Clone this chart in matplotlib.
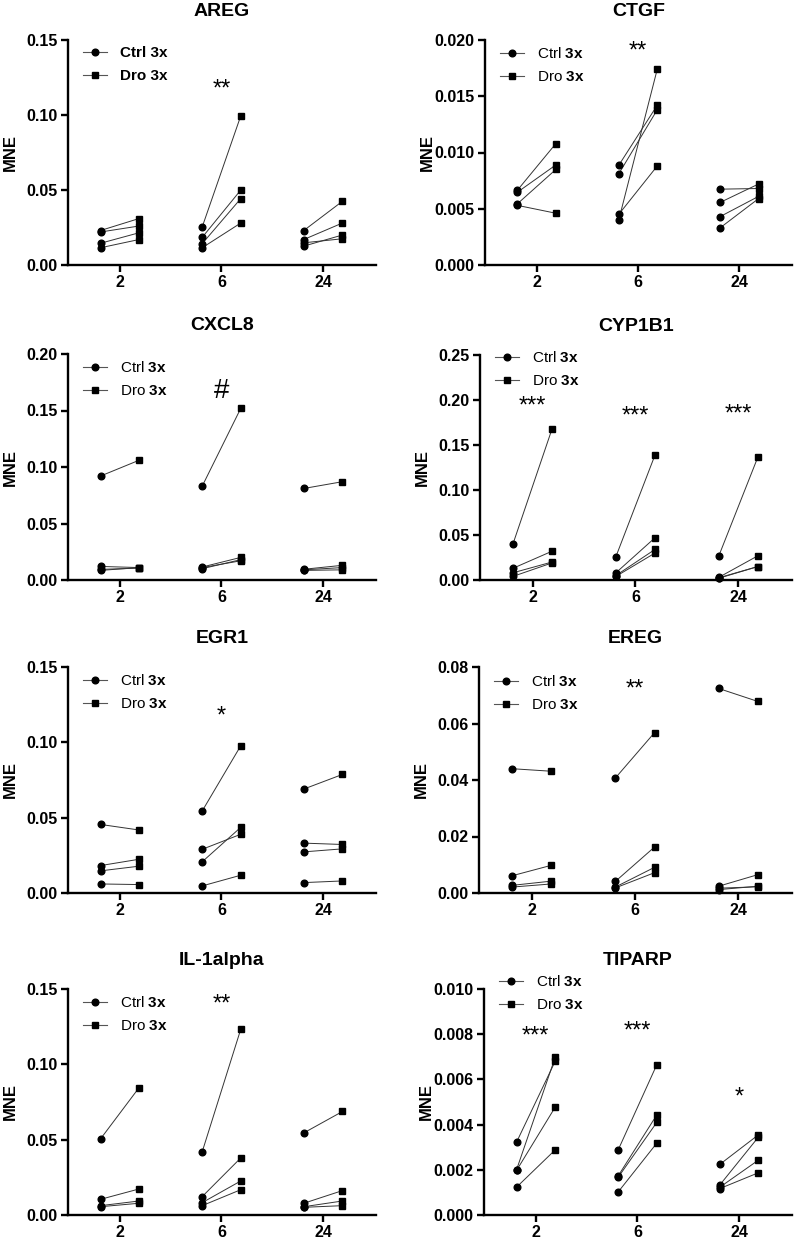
import matplotlib
matplotlib.use('Agg')
import matplotlib.pyplot as plt
from matplotlib.lines import Line2D
from matplotlib.ticker import FormatStrFormatter, MultipleLocator

plt.rcParams['font.family'] = 'Liberation Sans'
plt.rcParams['mathtext.fontset'] = 'custom'
plt.rcParams['mathtext.rm'] = 'Liberation Sans'
plt.rcParams['mathtext.bf'] = 'Liberation Sans:bold'

# time points (h)
times = ['2', '6', '24']

# MNE values, one row per time point, 4 paired donors each
areg_ctrl = [[0.023, 0.022, 0.0145, 0.0115], [0.0253, 0.0184, 0.0142, 0.0115], [0.023, 0.017, 0.0148, 0.0126]]
areg_dro = [[0.031, 0.026, 0.0215, 0.017], [0.0995, 0.050, 0.0443, 0.028], [0.0425, 0.028, 0.0175, 0.020]]

ctgf_ctrl = [[0.00665, 0.00647, 0.00544, 0.0053], [0.00886, 0.0081, 0.004, 0.0045], [0.00674, 0.00556, 0.0043, 0.0033]]
ctgf_dro = [[0.0108, 0.0089, 0.0085, 0.0046], [0.0142, 0.0138, 0.0174, 0.0088], [0.0068, 0.0072, 0.0061, 0.0059]]

cxcl8_ctrl = [[0.092, 0.012, 0.0094, 0.0085], [0.083, 0.0115, 0.011, 0.010], [0.081, 0.0095, 0.009, 0.0085]]
cxcl8_dro = [[0.106, 0.011, 0.0105, 0.011], [0.152, 0.020, 0.017, 0.018], [0.087, 0.013, 0.011, 0.009]]

cyp1b1_ctrl = [[0.040, 0.013, 0.008, 0.004], [0.026, 0.008, 0.005, 0.004], [0.027, 0.003, 0.002, 0.0025]]
cyp1b1_dro = [[0.168, 0.032, 0.020, 0.019], [0.139, 0.047, 0.034, 0.030], [0.137, 0.027, 0.015, 0.015]]

egr1_ctrl = [[0.0455, 0.0182, 0.0147, 0.006], [0.0544, 0.029, 0.0207, 0.0047], [0.069, 0.0331, 0.0273, 0.0069]]
egr1_dro = [[0.0418, 0.0224, 0.0178, 0.0056], [0.0978, 0.039, 0.0436, 0.0118], [0.0787, 0.0322, 0.0293, 0.008]]

ereg_ctrl = [[0.044, 0.0061, 0.0027, 0.0021], [0.0407, 0.0041, 0.0021, 0.0018], [0.0724, 0.0024, 0.0012, 0.0017]]
ereg_dro = [[0.0431, 0.0098, 0.0042, 0.0032], [0.0568, 0.0163, 0.0091, 0.0072], [0.0678, 0.0065, 0.0024, 0.0022]]

il1a_ctrl = [[0.0505, 0.0104, 0.0062, 0.0055], [0.0419, 0.0122, 0.0082, 0.0062], [0.0545, 0.0078, 0.0055, 0.0051]]
il1a_dro = [[0.0846, 0.0173, 0.0093, 0.0078], [0.1234, 0.0379, 0.0226, 0.0168], [0.0687, 0.0162, 0.0093, 0.0062]]

tiparp_ctrl = [[0.00322, 0.002, 0.00197, 0.00123], [0.00288, 0.00173, 0.00167, 0.00102], [0.00224, 0.00133, 0.00123, 0.00117]]
tiparp_dro = [[0.0068, 0.00697, 0.00477, 0.00288], [0.00665, 0.00443, 0.0041, 0.00318], [0.00355, 0.00345, 0.00243, 0.00187]]

# (gene, ctrl, dro, ymax, ystep, tick format, significance marks (group, y, text))
panels = [
    ('AREG', areg_ctrl, areg_dro, 0.15, 0.05, '%.2f', [(1, 0.117, '**')]),
    ('CTGF', ctgf_ctrl, ctgf_dro, 0.020, 0.005, '%.3f', [(1, 0.019, '**')]),
    ('CXCL8', cxcl8_ctrl, cxcl8_dro, 0.20, 0.05, '%.2f', [(1, 0.167, '#')]),
    ('CYP1B1', cyp1b1_ctrl, cyp1b1_dro, 0.25, 0.05, '%.2f',
     [(0, 0.193, '***'), (1, 0.182, '***'), (2, 0.184, '***')]),
    ('EGR1', egr1_ctrl, egr1_dro, 0.15, 0.05, '%.2f', [(1, 0.117, '*')]),
    ('EREG', ereg_ctrl, ereg_dro, 0.08, 0.02, '%.2f', [(1, 0.072, '**')]),
    ('IL-1alpha', il1a_ctrl, il1a_dro, 0.15, 0.05, '%.2f', [(1, 0.140, '**')]),
    ('TIPARP', tiparp_ctrl, tiparp_dro, 0.010, 0.002, '%.3f',
     [(0, 0.0079, '***'), (1, 0.0081, '***'), (2, 0.0052, '*')]),
]

W, H = 794, 1239
# axes boxes in pixels: left, right, top, bottom
boxes = [
    (68, 376, 40, 265), (485, 792, 40, 265),
    (68, 376, 354, 580), (480, 792, 355, 580),
    (68, 376, 667, 893), (479, 792, 667, 893),
    (68, 376, 989, 1215), (484, 792, 989, 1215),
]
legend_top = [6, 6, 6, -5, 6, 7, 6, -15]

fig = plt.figure(figsize=(W / 100, H / 100), dpi=100)

for k, (name, ctrl, dro, ymax, ystep, fmt, marks) in enumerate(panels):
    l, r, t, b = boxes[k]
    ax = fig.add_axes([l / W, 1 - b / H, (r - l) / W, (b - t) / H])
    off = 0.19
    for i in range(len(times)):
        for c, d in zip(ctrl[i], dro[i]):
            ax.plot([i - off, i + off], [c, d], color='#333333', lw=0.7, zorder=2)
        ax.plot([i - off] * len(ctrl[i]), ctrl[i], 'o', color='k', ms=4.8, clip_on=False, zorder=3)
        ax.plot([i + off] * len(dro[i]), dro[i], 's', color='k', ms=4.8, clip_on=False, zorder=3)
    for g, y, txt in marks:
        fs = 20 if txt == '#' else 17
        ax.text(g, y, txt, ha='center', va='center', fontsize=fs)

    ax.set_xlim(-0.51, 2.52)
    ax.set_ylim(0, ymax)
    ax.set_xticks(range(len(times)))
    ax.set_xticklabels(times)
    ax.yaxis.set_major_locator(MultipleLocator(ystep))
    ax.yaxis.set_major_formatter(FormatStrFormatter(fmt))
    for s in ['top', 'right']:
        ax.spines[s].set_visible(False)
    for s in ['left', 'bottom']:
        ax.spines[s].set_linewidth(1.7)
    ax.tick_params(width=1.7, length=5, labelsize=11.5, pad=2.5)
    for lab in ax.get_xticklabels() + ax.get_yticklabels():
        lab.set_fontweight('bold')
    ax.set_ylabel('MNE', fontsize=12, fontweight='bold')
    ax.yaxis.set_label_coords(-50 / (r - l), 0.5)
    ax.set_title(name, fontsize=14, fontweight='bold', pad=17)

    handles = [Line2D([], [], color='#555555', lw=0.8, marker='o', ms=4.8, mfc='k', mec='k'),
               Line2D([], [], color='#555555', lw=0.8, marker='s', ms=4.8, mfc='k', mec='k')]
    if name == 'AREG':
        labels = ['Ctrl 3x', 'Dro 3x']
        prop = {'size': 11, 'weight': 'bold'}
    else:
        labels = [r'Ctrl $\mathbf{3x}$', r'Dro $\mathbf{3x}$']
        prop = {'size': 11}
    ax.legend(handles, labels, loc='upper left', frameon=False, prop=prop,
              bbox_to_anchor=(15 / (r - l), 1 - legend_top[k] / (b - t)),
              borderaxespad=0, borderpad=0, handlelength=1.6,
              handletextpad=0.8, labelspacing=0.6)

fig.savefig('out.png', dpi=100)
